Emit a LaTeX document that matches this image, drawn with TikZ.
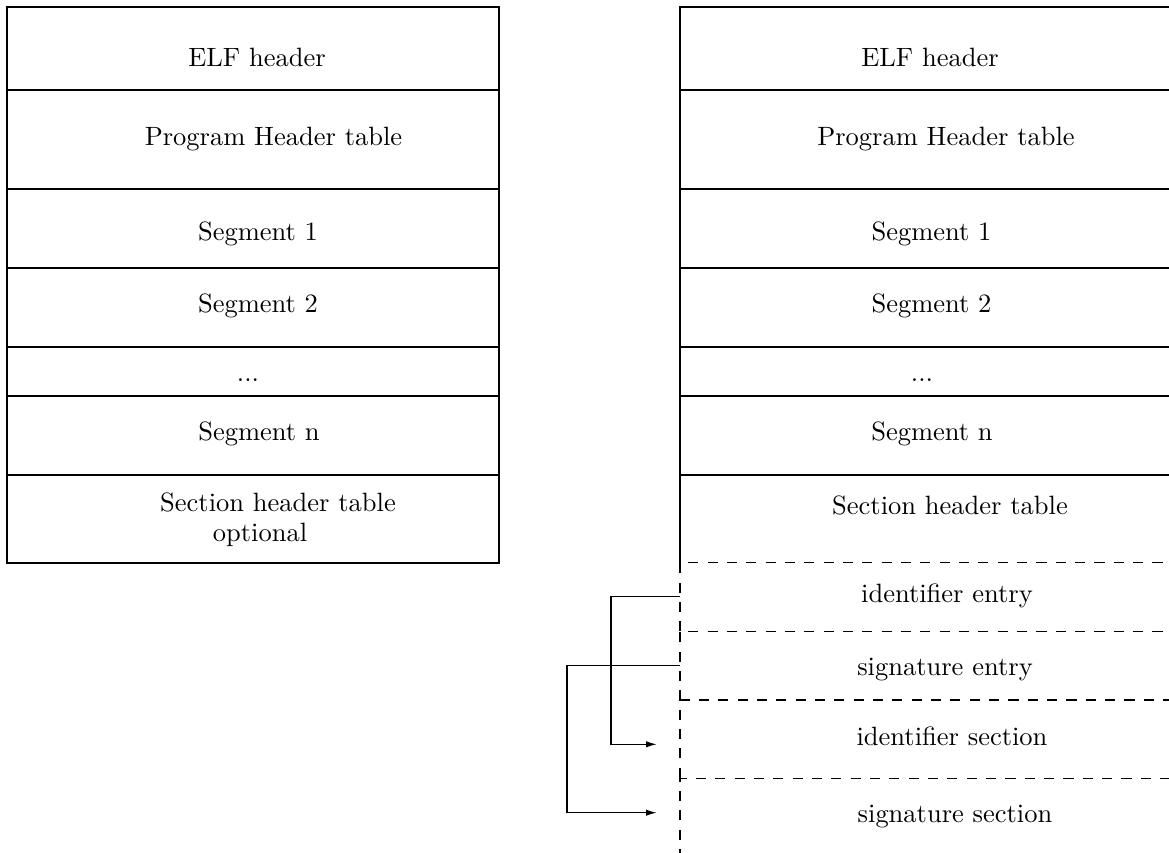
\documentclass[tikz,border=0pt]{standalone}
\usetikzlibrary{arrows.meta}
\begin{document}
\begin{tikzpicture}[x=0.3775pt,y=-0.3775pt,
  cell/.style={draw, rectangle, inner sep=0pt, outer sep=0pt, anchor=north west, minimum width=185.73pt},
  ghost/.style={rectangle, inner sep=0pt, outer sep=0pt, anchor=north west, minimum width=185.73pt},
  lbl/.style={anchor=base, inner sep=0pt},
  dashline/.style={dash pattern=on 3.8pt off 3.5pt},
  conn/.style={-{Latex[length=4pt,width=2.4pt]}, line width=0.4pt}]
\clip (0,0) rectangle (1169,852);
% left column
\node[cell, minimum height=31.33pt] (L1) at (7,7) {};
\node[cell, minimum height=37.37pt] (L2) at (7,90) {};
\node[cell, minimum height=29.82pt] (L3) at (7,189) {};
\node[cell, minimum height=29.82pt] (L4) at (7,268) {};
\node[cell, minimum height=18.50pt] (L5) at (7,347) {};
\node[cell, minimum height=29.82pt] (L6) at (7,396) {};
\node[cell, minimum height=33.22pt] (L7) at (7,475) {};
% right column
\node[cell, minimum height=31.33pt] (R1) at (680,7) {};
\node[cell, minimum height=37.37pt] (R2) at (680,90) {};
\node[cell, minimum height=29.82pt] (R3) at (680,189) {};
\node[cell, minimum height=29.82pt] (R4) at (680,268) {};
\node[cell, minimum height=18.50pt] (R5) at (680,347) {};
\node[cell, minimum height=29.82pt] (R6) at (680,396) {};
\node[ghost, minimum height=33.22pt] (R7) at (680,475) {};
\node[ghost, minimum height=26.05pt] (R8) at (680,562.3) {};
\node[ghost, minimum height=26.05pt] (R9) at (680,631.3) {};
\node[ghost, minimum height=29.32pt] (R10) at (680,700) {};
\node[ghost, minimum height=37.75pt] (R11) at (680,778.3) {};
\draw (R7.north west) -- (R7.south west);
\foreach \r in {R8,R9,R10,R11}{
  \draw[dashline] (\r.south west) -- (\r.north west) -- (\r.north east);
}
% left labels
\node[lbl] (tL1) at (257,67) {ELF header};
\node[lbl] (tL2) at (273.5,145) {Program Header table};
\node[lbl] (tL3) at (258,240) {Segment 1};
\node[lbl] (tL4) at (258,312.7) {Segment 2};
\node[lbl] (tL5) at (248,381) {...};
\node[lbl] (tL6) at (259,440) {Segment n};
\node[lbl] (tL7) at (278,511) {Section header table};
\node[lbl] (tL7b) at (260,541.7) {optional};
% right labels
\node[lbl] (tR1) at (930,67) {ELF header};
\node[lbl] (tR2) at (946,145) {Program Header table};
\node[lbl] (tR3) at (931.5,240) {Segment 1};
\node[lbl] (tR4) at (931.5,312.7) {Segment 2};
\node[lbl] (tR5) at (922,381) {...};
\node[lbl] (tR6) at (932,440) {Segment n};
\node[lbl] (tR7) at (950,514) {Section header table};
\node[lbl] (tR8) at (947,602.7) {identifier entry};
\node[lbl] (tR9) at (945,675) {signature entry};
\node[lbl] (tR10) at (952,745) {identifier section};
\node[lbl] (tR11) at (955,822.7) {signature section};
% connectors
\coordinate (bendA) at (611,0);
\coordinate (bendB) at (567,0);
\coordinate (tipA) at (656.6,744.3);
\coordinate (tipB) at (656.6,812.7);
\draw[conn] (R8.west) -- (R8.west -| bendA) |- (tipA);
\draw[conn] (R9.west) -- (R9.west -| bendB) |- (tipB);
\end{tikzpicture}
\end{document}
